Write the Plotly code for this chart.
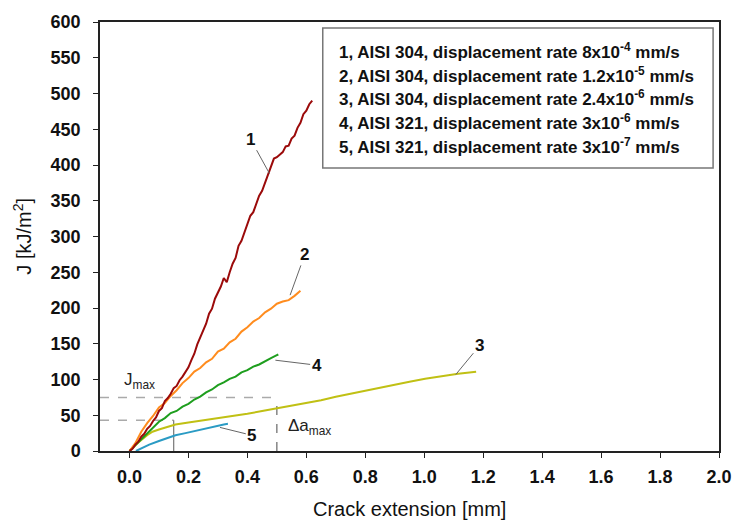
import plotly.graph_objects as go

# ---- data ----
c1_x = [0.00, 0.01, 0.02, 0.03, 0.04, 0.05, 0.06, 0.07, 0.08, 0.09, 0.10, 0.11, 0.12, 0.13, 0.14,
        0.15, 0.16, 0.17, 0.18, 0.19, 0.20, 0.21, 0.22, 0.23, 0.24, 0.25, 0.26, 0.27, 0.28, 0.29,
        0.30, 0.31, 0.32, 0.33, 0.34, 0.35, 0.36, 0.37, 0.38, 0.39, 0.40, 0.41, 0.42, 0.43, 0.44,
        0.45, 0.46, 0.47, 0.48, 0.49, 0.50, 0.51, 0.52, 0.53, 0.54, 0.55, 0.56, 0.57, 0.58, 0.59,
        0.60, 0.61, 0.62]
c1_j = [0, 3, 9, 13, 20, 24, 31, 35, 42, 47, 56, 60, 70, 74, 80,
        88, 91, 99, 104, 110, 117, 127, 136, 149, 158, 168, 178, 192, 199, 213,
        222, 230, 242, 236, 250, 262, 270, 287, 294, 306, 317, 329, 334, 347, 357,
        364, 376, 385, 400, 409, 411, 415, 418, 426, 427, 437, 441, 452, 459, 471,
        476, 485, 490]

c2_x = [0.00, 0.02, 0.04, 0.06, 0.08, 0.10, 0.12, 0.14, 0.16, 0.18, 0.20, 0.22, 0.24, 0.26, 0.28,
        0.30, 0.32, 0.34, 0.36, 0.38, 0.40, 0.42, 0.44, 0.46, 0.48, 0.50, 0.52, 0.54, 0.56, 0.58]
c2_j = [0, 11, 27, 39, 49, 61, 67, 77, 85, 95, 102, 111, 116, 124, 129,
        139, 143, 152, 157, 167, 173, 181, 186, 194, 199, 206, 209, 211, 217, 224]

c3_x = [0.00, 0.03, 0.06, 0.078, 0.10, 0.13, 0.156, 0.20, 0.25, 0.30, 0.334, 0.40, 0.45, 0.507,
        0.55, 0.60, 0.65, 0.70, 0.78, 0.85, 0.90, 0.95, 1.003, 1.05, 1.115, 1.176]
c3_j = [0, 12, 22, 27, 30, 34, 37, 40, 43, 46, 47, 52, 56, 60,
        64, 67, 71, 76, 83, 89, 93, 97, 101, 104, 108, 111]

c4_x = [0.00, 0.02, 0.04, 0.06, 0.08, 0.10, 0.12, 0.14, 0.16, 0.18, 0.20, 0.22, 0.24, 0.26,
        0.28, 0.30, 0.32, 0.34, 0.36, 0.38, 0.40, 0.42, 0.44, 0.46, 0.48, 0.50, 0.505]
c4_j = [0, 8, 17, 25, 32, 41, 46, 53, 56, 62, 66, 72, 76, 82,
        86, 92, 96, 101, 104, 110, 113, 118, 121, 126, 130, 134, 135]

c5_x = [0.022, 0.04, 0.067, 0.10, 0.13, 0.156, 0.19, 0.22, 0.256, 0.28, 0.30, 0.32, 0.334]
c5_j = [0, 4, 9, 14, 18, 22, 25, 28, 31, 34, 36, 37, 38]

legend_lines = [
    "1, AISI 304, displacement rate 8x10<sup>-4</sup> mm/s",
    "2, AISI 304, displacement rate 1.2x10<sup>-5</sup> mm/s",
    "3, AISI 304, displacement rate 2.4x10<sup>-6</sup> mm/s",
    "4, AISI 321, displacement rate 3x10<sup>-6</sup> mm/s",
    "5, AISI 321, displacement rate 3x10<sup>-7</sup> mm/s",
]

x_ticks = [0.0, 0.2, 0.4, 0.6, 0.8, 1.0, 1.2, 1.4, 1.6, 1.8, 2.0]
x_tick_text = ["0.0", "0.2", "0.4", "0.6", "0.8", "1.0", "1.2", "1.4", "1.6", "1.8", "2.0"]
y_ticks = [0, 50, 100, 150, 200, 250, 300, 350, 400, 450, 500, 550, 600]

# construction lines
j_max = 75
j_low = 43
da_max = 0.5
da_low = 0.15
x_min = -0.1

# curve labels: (text, label x, label J, point x, point J)
curve_labels = [
    ("1", 0.411, 436, 0.475, 388),
    ("2", 0.595, 275, 0.545, 218),
    ("3", 1.187, 147, 1.107, 107),
    ("4", 0.635, 120, 0.495, 127),
    ("5", 0.415, 22, 0.307, 33),
]

colors = ["#9B0A0A", "#FF8C1E", "#C0C014", "#1E9E1E", "#2A9BC4"]
FONT = "Liberation Sans, Arial, sans-serif"

fig = go.Figure()

# dashed construction lines
fig.add_trace(go.Scatter(x=[x_min, da_max], y=[j_max, j_max], mode="lines",
                         line=dict(color="#AAAAAA", width=1.5, dash="dash"), hoverinfo="skip"))
fig.add_trace(go.Scatter(x=[x_min, da_low], y=[j_low, j_low], mode="lines",
                         line=dict(color="#AAAAAA", width=1.5, dash="dash"), hoverinfo="skip"))
fig.add_trace(go.Scatter(x=[da_max, da_max], y=[0, j_max], mode="lines",
                         line=dict(color="#666666", width=1.2, dash="dash"), hoverinfo="skip"))
fig.add_trace(go.Scatter(x=[da_low, da_low], y=[0, j_low], mode="lines",
                         line=dict(color="#777777", width=1.2), hoverinfo="skip"))

for xs, js, col in [(c3_x, c3_j, colors[2]), (c5_x, c5_j, colors[4]), (c4_x, c4_j, colors[3]),
                    (c2_x, c2_j, colors[1]), (c1_x, c1_j, colors[0])]:
    fig.add_trace(go.Scatter(x=xs, y=js, mode="lines", line=dict(color=col, width=2),
                             hoverinfo="skip"))

annotations = []
for txt, lx, ly, px, py in curve_labels:
    annotations.append(dict(x=px, y=py, xref="x", yref="y", ax=lx, ay=ly, axref="x", ayref="y",
                            text="<b>%s</b>" % txt, showarrow=True, arrowhead=0, arrowwidth=1,
                            arrowcolor="#666666", standoff=0,
                            font=dict(family=FONT, size=17, color="#111111")))

annotations.append(dict(x=0.035, y=98, xref="x", yref="y", text="J<sub>max</sub>", showarrow=False,
                        font=dict(family=FONT, size=17, color="#222222")))
annotations.append(dict(x=0.61, y=33, xref="x", yref="y", text="Δa<sub>max</sub>", showarrow=False,
                        font=dict(family=FONT, size=17, color="#222222")))

# legend box text
line_y_px = [43, 67, 91, 115, 140]
for txt, ypx in zip(legend_lines, line_y_px):
    annotations.append(dict(x=(340 - 100) / 628, y=(451 - ypx) / 438, xref="paper", yref="paper",
                            xanchor="left", yanchor="middle", text=txt, showarrow=False,
                            font=dict(family=FONT, size=17, color="#111111", weight="bold")))

# axis titles
annotations.append(dict(x=(21 - 100) / 628, y=0.5, xref="paper", yref="paper", textangle=-90,
                        text="J [kJ/m<sup>2</sup>]", showarrow=False, xanchor="center", yanchor="middle",
                        font=dict(family=FONT, size=20, color="#111111")))
annotations.append(dict(x=0.5, y=(451 - 510) / 438, xref="paper", yref="paper",
                        text="Crack extension [mm]", showarrow=False, xanchor="center", yanchor="middle",
                        font=dict(family=FONT, size=20, color="#111111")))

fig.update_layout(
    width=744, height=532,
    margin=dict(l=100, r=16, t=13, b=81),
    paper_bgcolor="white", plot_bgcolor="white",
    showlegend=False,
    annotations=annotations,
    shapes=[dict(type="rect", xref="paper", yref="paper",
                 x0=(326 - 100) / 628, x1=(722 - 100) / 628,
                 y0=(451 - 162) / 438, y1=(451 - 19) / 438,
                 line=dict(color="#777777", width=1.5), fillcolor="rgba(0,0,0,0)")],
)
fig.update_xaxes(range=[x_min, 2.0], tickvals=x_ticks, ticktext=x_tick_text, showgrid=False,
                 zeroline=False, showline=True, linecolor="#222222", linewidth=1.5, mirror=True,
                 ticks="outside", ticklen=5, tickcolor="#222222", ticklabelstandoff=4,
                 tickfont=dict(family=FONT, size=18, color="#111111", weight="bold"))
fig.update_yaxes(range=[0, 600], tickvals=y_ticks, showgrid=False, zeroline=False, showline=True,
                 linecolor="#222222", linewidth=1.5, mirror=True, ticks="outside", ticklen=5,
                 tickcolor="#222222", ticklabelstandoff=9,
                 tickfont=dict(family=FONT, size=18, color="#111111", weight="bold"))

fig.write_html("out.html", config={"displayModeBar": False},
               post_script="document.body.style.margin='0px';document.body.style.overflow='hidden';")
